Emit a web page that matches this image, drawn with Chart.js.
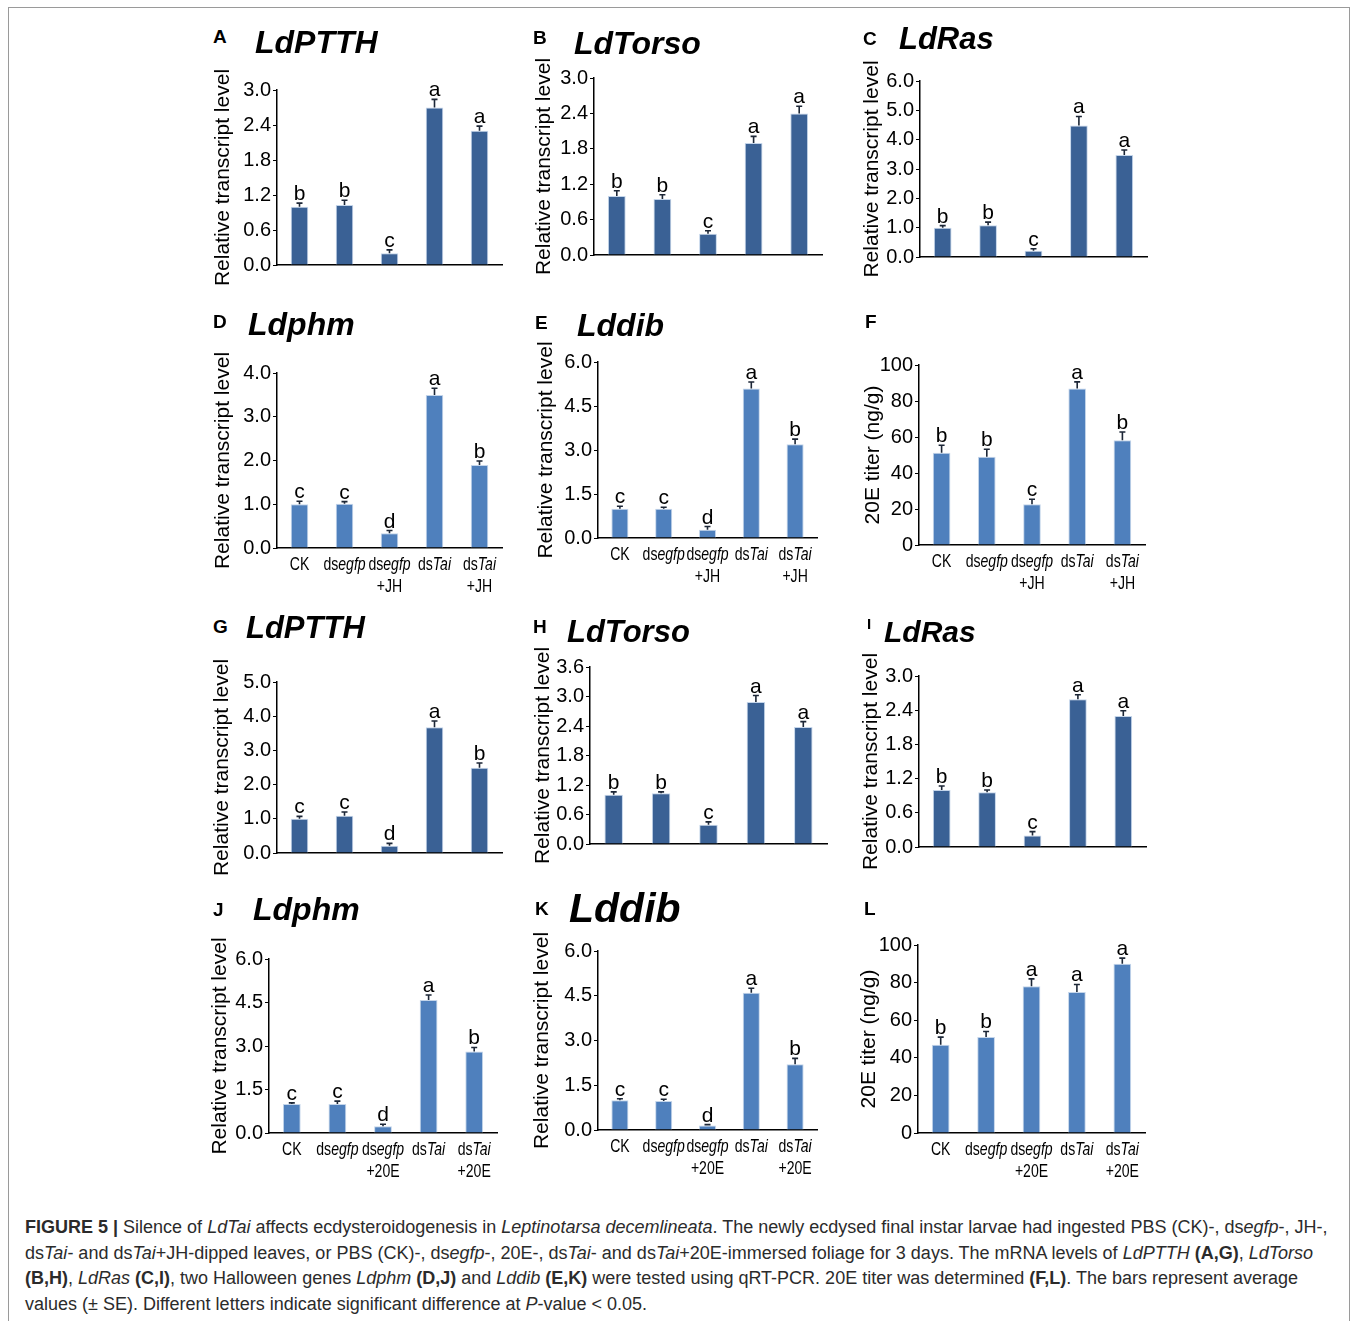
<!DOCTYPE html>
<html>
<head>
<meta charset="utf-8">
<script src="https://cdn.jsdelivr.net/npm/chart.js@4.4.0/dist/chart.umd.min.js"></script>
<style>
  body { margin: 0; background: #fff; }
  #page { position: relative; width: 1357px; height: 1321px; overflow: hidden; font-family: "Liberation Sans", Arial, sans-serif; }
  #frame { position: absolute; left: 8px; top: 7px; width: 1340px; height: 1340px; border: 1px solid #9a9a9a; }
  canvas { position: absolute; }
  .plabel { position: absolute; font-weight: bold; font-size: 19px; line-height: 1; transform: translateY(-50%); color: #000; }
  .gene { position: absolute; font-weight: bold; font-style: italic; line-height: 1; transform: translateY(-50%); color: #000; white-space: nowrap; }
  #caption { position: absolute; left: 25px; top: 1215px; font-size: 18px; line-height: 25.7px; color: #2b2b2b; white-space: nowrap; }
</style>
</head>
<body>
<div id="page">
  <div id="frame"></div>
  <div id="caption">
    <div><b>FIGURE 5 |</b> Silence of <i>LdTai</i> affects ecdysteroidogenesis in <i>Leptinotarsa decemlineata</i>. The newly ecdysed final instar larvae had ingested PBS (CK)-, ds<i>egfp</i>-, JH-,</div>
    <div>ds<i>Tai</i>- and ds<i>Tai</i>+JH-dipped leaves, or PBS (CK)-, ds<i>egfp</i>-, 20E-, ds<i>Tai</i>- and ds<i>Tai</i>+20E-immersed foliage for 3 days. The mRNA levels of <i>LdPTTH</i> <b>(A,G)</b>, <i>LdTorso</i></div>
    <div><b>(B,H)</b>, <i>LdRas</i> <b>(C,I)</b>, two Halloween genes <i>Ldphm</i> <b>(D,J)</b> and <i>Lddib</i> <b>(E,K)</b> were tested using qRT-PCR. 20E titer was determined <b>(F,L)</b>. The bars represent average</div>
    <div>values (± SE). Different letters indicate significant difference at <i>P</i>-value &lt; 0.05.</div>
  </div>
</div>
<script>
// Categories (underscores mark italic parts, \n a line break)
const groupsJH = ['CK', 'ds_egfp_', 'ds_egfp_\n+JH', 'ds_Tai_', 'ds_Tai_\n+JH'];
const groups20E = ['CK', 'ds_egfp_', 'ds_egfp_\n+20E', 'ds_Tai_', 'ds_Tai_\n+20E'];

// JH feeding experiment (A-F)
const ptthJH = [1.0, 1.03, 0.2, 2.7, 2.3];
const ptthJHErr = [0.06, 0.08, 0.06, 0.14, 0.08];
const ptthJHSig = ['b', 'b', 'c', 'a', 'a'];

const torsoJH = [1.0, 0.95, 0.36, 1.9, 2.4];
const torsoJHErr = [0.09, 0.07, 0.05, 0.11, 0.12];
const torsoJHSig = ['b', 'b', 'c', 'a', 'a'];

const rasJH = [1.0, 1.08, 0.21, 4.48, 3.48];
const rasJHErr = [0.07, 0.11, 0.07, 0.31, 0.17];
const rasJHSig = ['b', 'b', 'c', 'a', 'a'];

const phmJH = [1.0, 1.01, 0.34, 3.5, 1.9];
const phmJHErr = [0.07, 0.05, 0.06, 0.15, 0.09];
const phmJHSig = ['c', 'c', 'd', 'a', 'b'];

const dibJH = [1.0, 1.0, 0.28, 5.1, 3.2];
const dibJHErr = [0.08, 0.05, 0.11, 0.22, 0.17];
const dibJHSig = ['c', 'c', 'd', 'a', 'b'];

const titerJH = [51.3, 49, 22.6, 87, 58.2];
const titerJHErr = [4.1, 4.2, 2.8, 3.6, 4.6];
const titerJHSig = ['b', 'b', 'c', 'a', 'b'];

// 20E feeding experiment (G-L)
const ptth20E = [1.0, 1.09, 0.21, 3.68, 2.49];
const ptth20EErr = [0.07, 0.11, 0.07, 0.18, 0.14];
const ptth20ESig = ['c', 'c', 'd', 'a', 'b'];

const torso20E = [1.0, 1.03, 0.39, 2.89, 2.38];
const torso20EErr = [0.06, 0.03, 0.06, 0.13, 0.11];
const torso20ESig = ['b', 'b', 'c', 'a', 'a'];

const ras20E = [1.0, 0.96, 0.2, 2.59, 2.3];
const ras20EErr = [0.07, 0.04, 0.07, 0.08, 0.09];
const ras20ESig = ['b', 'b', 'c', 'a', 'a'];

const phm20E = [1.0, 1.0, 0.23, 4.59, 2.81];
const phm20EErr = [0.04, 0.1, 0.07, 0.17, 0.14];
const phm20ESig = ['c', 'c', 'd', 'a', 'b'];

const dib20E = [1.0, 0.97, 0.15, 4.6, 2.2];
const dib20EErr = [0.05, 0.06, 0.03, 0.15, 0.2];
const dib20ESig = ['c', 'c', 'd', 'a', 'b'];

const titer20E = [47, 51, 78, 75, 90];
const titer20EErr = [4, 3, 4, 4, 3];
const titer20ESig = ['b', 'b', 'a', 'a', 'a'];

const relTitle = 'Relative transcript level';
const titerTitle = '20E titer (ng/g)';
const dark = '#3a6195';
const light = '#4f80bd';

// panel layout: axis position in page pixels
const panels = [
  {id: 'A', gene: 'LdPTTH', v: ptthJH, e: ptthJHErr, s: ptthJHSig, cats: groupsJH, showX: false, max: 3, step: 0.6, dec: 1, color: dark, yTitle: relTitle,
   axisX: 277, top: 90, bottom: 265, right: 502, titleX: 223, lab: [213, 36], genePos: [255, 41.5], geneSize: 32},
  {id: 'B', gene: 'LdTorso', v: torsoJH, e: torsoJHErr, s: torsoJHSig, cats: groupsJH, showX: false, max: 3, step: 0.6, dec: 1, color: dark, yTitle: relTitle,
   axisX: 594, top: 78, bottom: 255, right: 822, titleX: 544, lab: [533, 36.5], genePos: [574, 42.5], geneSize: 32},
  {id: 'C', gene: 'LdRas', v: rasJH, e: rasJHErr, s: rasJHSig, cats: groupsJH, showX: false, max: 6, step: 1, dec: 1, color: dark, yTitle: relTitle,
   axisX: 920, top: 81, bottom: 257, right: 1147, titleX: 872, lab: [863, 38], genePos: [899, 38], geneSize: 31},
  {id: 'D', gene: 'Ldphm', v: phmJH, e: phmJHErr, s: phmJHSig, cats: groupsJH, showX: true, max: 4, step: 1, dec: 1, color: light, yTitle: relTitle,
   axisX: 277, top: 373, bottom: 548, right: 502, titleX: 223, lab: [213, 321], genePos: [248, 324], geneSize: 32},
  {id: 'E', gene: 'Lddib', v: dibJH, e: dibJHErr, s: dibJHSig, cats: groupsJH, showX: true, max: 6, step: 1.5, dec: 1, color: light, yTitle: relTitle,
   axisX: 598, top: 362, bottom: 538, right: 817, titleX: 546, lab: [535, 321.5], genePos: [577, 325], geneSize: 32},
  {id: 'F', gene: '', v: titerJH, e: titerJHErr, s: titerJHSig, cats: groupsJH, showX: true, max: 100, step: 20, dec: 0, color: light, yTitle: titerTitle,
   axisX: 919, top: 365, bottom: 545, right: 1145, titleX: 873, lab: [865, 320.5], genePos: [0, 0], geneSize: 32},
  {id: 'G', gene: 'LdPTTH', v: ptth20E, e: ptth20EErr, s: ptth20ESig, cats: groups20E, showX: false, max: 5, step: 1, dec: 1, color: dark, yTitle: relTitle,
   axisX: 277, top: 682, bottom: 853, right: 502, titleX: 222, lab: [213, 626], genePos: [246, 626.5], geneSize: 31},
  {id: 'H', gene: 'LdTorso', v: torso20E, e: torso20EErr, s: torso20ESig, cats: groups20E, showX: false, max: 3.6, step: 0.6, dec: 1, color: dark, yTitle: relTitle,
   axisX: 590, top: 667, bottom: 844, right: 827, titleX: 543, lab: [533, 626], genePos: [567, 631], geneSize: 31},
  {id: 'I', gene: 'LdRas', v: ras20E, e: ras20EErr, s: ras20ESig, cats: groups20E, showX: false, max: 3, step: 0.6, dec: 1, color: dark, yTitle: relTitle,
   axisX: 919, top: 676, bottom: 847, right: 1146, titleX: 871, lab: [867, 623], genePos: [884, 632], geneSize: 30},
  {id: 'J', gene: 'Ldphm', v: phm20E, e: phm20EErr, s: phm20ESig, cats: groups20E, showX: true, max: 6, step: 1.5, dec: 1, color: light, yTitle: relTitle,
   axisX: 269, top: 959, bottom: 1133, right: 497, titleX: 220, lab: [213, 909], genePos: [253, 909], geneSize: 32},
  {id: 'K', gene: 'Lddib', v: dib20E, e: dib20EErr, s: dib20ESig, cats: groups20E, showX: true, max: 6, step: 1.5, dec: 1, color: light, yTitle: relTitle,
   axisX: 598, top: 951, bottom: 1130, right: 817, titleX: 542, lab: [535, 908], genePos: [569, 908], geneSize: 41},
  {id: 'L', gene: '', v: titer20E, e: titer20EErr, s: titer20ESig, cats: groups20E, showX: true, max: 100, step: 20, dec: 0, color: light, yTitle: titerTitle,
   axisX: 918, top: 945, bottom: 1133, right: 1145, titleX: 869, lab: [864, 908], genePos: [0, 0], geneSize: 32}
];

const FONT = '"Liberation Sans", Arial, sans-serif';
const SQUEEZE = 0.74; // x labels are set in a condensed face

// draws error bars, significance letters and mixed-style x labels
const annotate = {
  id: 'annotate',
  afterDatasetsDraw(chart, args, opts) {
    const ctx = chart.ctx;
    const meta = chart.getDatasetMeta(0);
    const y = chart.scales.y;
    ctx.save();
    meta.data.forEach((bar, i) => {
      const base = y.getPixelForValue(opts.values[i]);
      const top = y.getPixelForValue(opts.values[i] + opts.errors[i]);
      ctx.strokeStyle = '#1c2636';
      ctx.lineWidth = 1.6;
      ctx.beginPath();
      ctx.moveTo(bar.x, base);
      ctx.lineTo(bar.x, top);
      ctx.moveTo(bar.x - 3, top);
      ctx.lineTo(bar.x + 3, top);
      ctx.stroke();
      ctx.fillStyle = '#000';
      ctx.font = '21px ' + FONT;
      ctx.textAlign = 'center';
      ctx.textBaseline = 'alphabetic';
      ctx.fillText(opts.letters[i], bar.x, top - 3);
    });
    if (opts.showX) {
      const x = chart.scales.x;
      ctx.textAlign = 'left';
      ctx.textBaseline = 'middle';
      chart.data.labels.forEach((lab, i) => {
        const cx = x.getPixelForValue(i);
        lab.split('\n').forEach((line, li) => {
          const parts = line.split('_');
          let w = 0;
          parts.forEach((p, k) => {
            ctx.font = (k % 2 ? 'italic ' : '') + '19px ' + FONT;
            w += ctx.measureText(p).width;
          });
          const py = y.bottom + 17 + li * 22;
          ctx.save();
          ctx.translate(cx - w * SQUEEZE / 2, py);
          ctx.scale(SQUEEZE, 1);
          let px = 0;
          parts.forEach((p, k) => {
            ctx.font = (k % 2 ? 'italic ' : '') + '19px ' + FONT;
            ctx.fillText(p, px, 0);
            px += ctx.measureText(p).width;
          });
          ctx.restore();
        });
      });
    }
    ctx.restore();
  }
};

const page = document.getElementById('page');

panels.forEach(p => {
  const padTop = 40, padRight = 10, xH = 60;
  const left = p.titleX - 16;
  const top = p.top - padTop;
  const w = p.right + padRight - left;
  const h = p.bottom + xH - top;

  const canvas = document.createElement('canvas');
  canvas.width = w;
  canvas.height = h;
  canvas.style.left = left + 'px';
  canvas.style.top = top + 'px';
  page.appendChild(canvas);

  const lab = document.createElement('div');
  lab.className = 'plabel';
  lab.textContent = p.id;
  lab.style.left = p.lab[0] + 'px';
  lab.style.top = p.lab[1] + 'px';
  if (p.id === 'I') lab.style.fontSize = '15px';
  page.appendChild(lab);

  if (p.gene) {
    const g = document.createElement('div');
    g.className = 'gene';
    g.textContent = p.gene;
    g.style.left = p.genePos[0] + 'px';
    g.style.top = p.genePos[1] + 'px';
    g.style.fontSize = p.geneSize + 'px';
    page.appendChild(g);
  }

  new Chart(canvas.getContext('2d'), {
    type: 'bar',
    data: {
      labels: p.cats,
      datasets: [{
        data: p.v,
        backgroundColor: p.color,
        borderColor: 'rgba(190, 208, 232, 0.9)',
        borderWidth: 1,
        borderSkipped: 'bottom',
        barPercentage: 0.39,
        categoryPercentage: 1
      }]
    },
    options: {
      responsive: false,
      animation: false,
      layout: { padding: { top: padTop, right: padRight, left: 0, bottom: 0 } },
      plugins: {
        legend: { display: false },
        tooltip: { enabled: false },
        annotate: { values: p.v, errors: p.e, letters: p.s, showX: p.showX }
      },
      scales: {
        x: {
          grid: { display: false },
          border: { color: '#000', width: 1.5 },
          ticks: { display: false },
          afterFit: s => { s.height = xH; }
        },
        y: {
          min: 0,
          max: p.max,
          ticks: {
            stepSize: p.step,
            color: '#000',
            padding: 2,
            font: { size: 20, family: FONT },
            callback: v => Number(v).toFixed(p.dec)
          },
          grid: { drawOnChartArea: false, drawTicks: true, tickLength: 4, color: '#000', lineWidth: 1 },
          border: { color: '#000', width: 1.5 },
          title: { display: true, text: p.yTitle, color: '#000', font: { size: 21, family: FONT }, padding: { top: 4, bottom: 4 } },
          afterFit: s => { s.width = p.axisX - left; }
        }
      }
    },
    plugins: [annotate]
  });
});
</script>
</body>
</html>
